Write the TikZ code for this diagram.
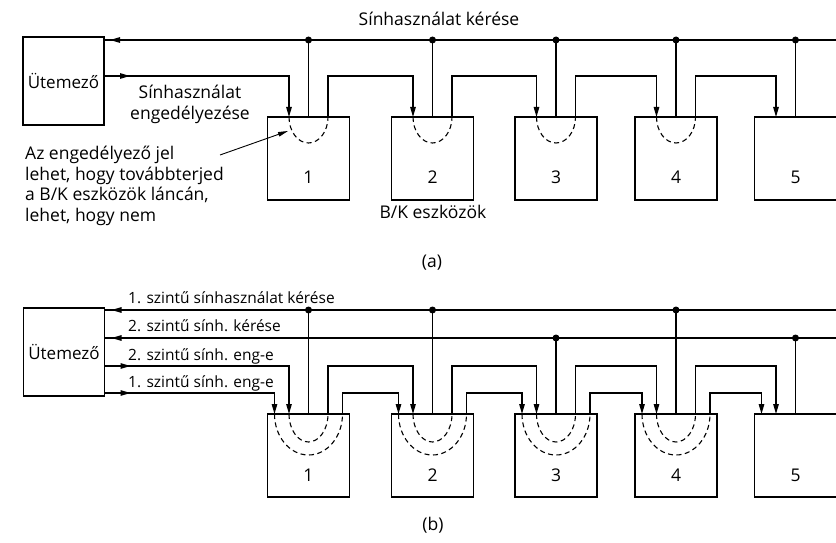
\documentclass[tikz,border=0pt]{standalone}
\usepackage{fontspec}
\setmainfont{Open Sans}
\usetikzlibrary{arrows.meta,calc,decorations.markings}

\begin{document}
\begin{tikzpicture}[x=1pt,y=1pt,
  wire/.style={line width=1.3pt},
  tip/.style={-{Triangle[length=10pt,width=5.5pt]}},
  arrowat/.style={postaction={decorate},
    decoration={markings,mark=at position #1 with {\arrow{Triangle[length=10pt,width=5.5pt]}}}},
  devbox/.style={draw,line width=1.7pt,minimum width=82pt,minimum height=83pt,inner sep=0pt,outer sep=0pt},
  sched/.style={draw,line width=1.7pt,minimum width=81pt,minimum height=88pt,inner sep=0pt,outer sep=0pt,
    font=\fontsize{17}{20}\selectfont},
  txt/.style={font=\fontsize{17.5}{20.5}\selectfont,inner sep=0pt},
  smalltxt/.style={font=\fontsize{15.5}{18}\selectfont,inner sep=0pt},
  hook/.style={line width=1.1pt,dash pattern=on 5pt off 3.5pt},
  dot/.style={circle,fill,inner sep=0pt,minimum size=7pt},
]
\useasboundingbox (0,0) rectangle (836,-543);

% ---------------- (a) single-level daisy chain ----------------
\node[sched] (sa) at (63.5,-81) {Ütemező};
\foreach \i/\cx in {1/308.5,2/432.5,3/556,4/676,5/795.5}{
  \node[devbox] (a\i) at (\cx,-158.5) {};
  \node[txt] (na\i) at (\cx,-177) {\i};
  \path (a\i.north) ++(-19.5,0) coordinate (a\i i) ++(39,0) coordinate (a\i o);
}
\coordinate (reqa) at (836,-40);
\coordinate (grya) at (0,-76);

% request bus
\draw[wire,arrowat=-6pt] (reqa) -- (reqa -| sa.east);
\foreach \i in {1,...,5}{
  \draw[wire] (a\i.north) -- (a\i.north |- reqa);
  \node[dot] at (a\i.north |- reqa) {};
}
% grant chain
\draw[wire,tip,arrowat=26pt] (sa.east |- grya) -| (a1i);
\foreach \i/\j in {1/2,2/3,3/4,4/5}{
  \draw[wire,tip] (a\i o) -- (a\i o |- grya) -| (a\j i);
}
\foreach \i in {1,...,4}{
  \draw[hook] (a\i i) arc[start angle=180,end angle=360,x radius=19.5,y radius=26];
}

\node[txt,anchor=base] (reqlab) at (439,-26) {Sínhasználat kérése};
\node[txt,align=center,anchor=base] (grlab) at (190,-119) {Sínhasználat\\engedélyezése};
\node[txt,align=left,anchor=base west] (note) at (25,-221)
  {Az engedélyező jel\\lehet, hogy továbbterjed\\a B/K eszközök láncán,\\lehet, hogy nem};
\coordinate (notetail) at (220,-155);
\coordinate (notetip) at ($(a1i)+(-1,-14)$);
\draw[line width=0.9pt,-{Triangle[length=10pt,width=4.5pt]}] (notetail) -- (notetip);
\node[txt,anchor=base] (bk) at (433,-218) {B/K eszközök};
\node[txt] (capa) at (432,-263) {(a)};

% ---------------- (b) two-level daisy chain ----------------
\node[sched] (sb) at (64,-352) {Ütemező};
\foreach \i/\cx in {1/308.5,2/432.5,3/556,4/676,5/795.5}{
  \node[devbox] (b\i) at (\cx,-455.5) {};
  \node[txt] (nb\i) at (\cx,-475) {\i};
  \path (b\i.north) ++(-34,0) coordinate (b\i p) ++(14.5,0) coordinate (b\i q)
        ++(39,0) coordinate (b\i r) ++(14.5,0) coordinate (b\i s);
}
\coordinate (reqb) at (836,-310);
\coordinate (reqbb) at (836,-338);
\coordinate (grtwo) at (0,-366);
\coordinate (grone) at (0,-393);

% request buses of the two levels
\draw[wire,arrowat=-7pt] (reqb) -- (reqb -| sb.east);
\draw[wire,arrowat=-7pt] (reqbb) -- (reqbb -| sb.east);
\foreach \i/\bus in {1/reqb,2/reqb,3/reqbb,4/reqb,5/reqbb}{
  \draw[wire] (b\i.north) -- (b\i.north |- \bus);
  \node[dot] at (b\i.north |- \bus) {};
}
% grant chains
\draw[wire,tip,arrowat=26pt] (sb.east |- grtwo) -| (b1q);
\draw[wire,tip,arrowat=26pt] (sb.east |- grone) -| (b1p);
\foreach \i/\j in {1/2,2/3,3/4,4/5}{
  \draw[wire,tip] (b\i r) -- (b\i r |- grtwo) -| (b\j q);
  \draw[wire,tip] (b\i s) -- (b\i s |- grone) -| (b\j p);
}
\foreach \i in {1,...,4}{
  \draw[hook] (b\i q) arc[start angle=180,end angle=360,x radius=19.5,y radius=28];
  \draw[hook] (b\i p) arc[start angle=180,end angle=360,x radius=34,y radius=41];
}

\node[smalltxt,anchor=base west] (l1) at (128,-303) {1. szintű sínhasználat kérése};
\node[smalltxt,anchor=base west] (l2) at (128,-331) {2. szintű sính. kérése};
\node[smalltxt,anchor=base west] (l3) at (128,-360) {2. szintű sính. eng-e};
\node[smalltxt,anchor=base west] (l4) at (128,-387) {1. szintű sính. eng-e};
\node[txt] (capb) at (433,-525) {(b)};
\end{tikzpicture}
\end{document}
